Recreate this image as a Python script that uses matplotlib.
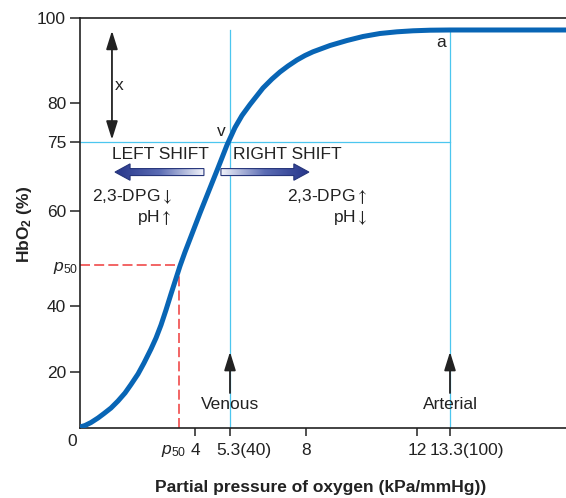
import numpy as np
import matplotlib
matplotlib.use('Agg')
import matplotlib.pyplot as plt
import matplotlib.transforms as mtransforms
from matplotlib.patches import FancyArrow
from matplotlib.colors import LinearSegmentedColormap

plt.rcParams['font.family'] = ['Liberation Sans', 'DejaVu Sans']
plt.rcParams['mathtext.fontset'] = 'custom'
plt.rcParams['mathtext.rm'] = 'Liberation Sans'
plt.rcParams['mathtext.it'] = 'Liberation Sans:italic'
plt.rcParams['mathtext.bf'] = 'Liberation Sans:bold'

# oxygen dissociation curve
kpa = [0.0, 0.177, 0.389, 0.636, 0.849, 1.096, 1.343, 1.591, 1.803, 2.051,
       2.263, 2.510, 2.687, 2.864, 3.040, 3.217, 3.376, 3.531, 3.688, 3.844,
       4.186, 4.557, 4.854, 5.189, 5.478, 5.726, 6.011, 6.472, 6.792, 7.076,
       7.361, 7.680, 7.964, 8.252, 8.865, 9.477, 10.054, 10.667, 11.279,
       11.856, 12.512, 13.3, 17.4]
hbo2 = [0.36, 0.89, 1.96, 3.57, 5.18, 7.14, 9.64, 12.5, 15.54, 19.29,
        22.73, 26.97, 30.30, 34.24, 38.79, 42.93, 46.34, 49.76, 52.41, 54.81,
        59.63, 65.0, 69.35, 74.35, 76.86, 78.40, 79.81, 83.55, 85.68, 87.34,
        88.76, 90.18, 91.24, 92.12, 93.61, 94.79, 95.74, 96.45, 96.85,
        97.09, 97.23, 97.28, 97.28]

p50_kpa = 3.5
p50_sat = 50
venous_kpa = 5.3
venous_sat = 75
arterial_kpa = 13.3
plateau_sat = 97.28

x_ticks = [3.5, 4, 5.3, 8, 12, 13.3]
x_ticklabels = [r'$p_{50}$', '4', '5.3(40)', '8', '12', '13.3(100)']
y_ticks = [20, 40, 50, 60, 75, 80, 100]
y_ticklabels = ['20', '40', r'$p_{50}$', '60', '75', '80', '100']

# the drawing is schematic: both axes are piecewise, not linear
x_knots = [-10, 0, 3.5, 4, 5.3, 8, 12, 13.3, 17.4, 30]
x_pos = [-283, 0, 99, 115, 150, 226, 337, 370, 486, 842]
y_knots = [-50, 0, 20, 40, 50, 60, 75, 80, 100, 150]
y_pos = [-140, 0, 56, 122, 163, 217, 286, 325, 409.5, 620]


def fwd(knots, pos):
    return lambda v: np.interp(v, knots, pos)


def inv(knots, pos):
    return lambda v: np.interp(v, pos, knots)


curve_col = '#0865b5'
cyan = '#4cc6ef'
red = '#f04a4a'
ink = '#222222'
fs = 12.5

fig = plt.figure(figsize=(5.66, 4.98), dpi=100)
ax = fig.add_axes([80 / 566, 70 / 498, 486 / 566, 409.5 / 498])
ax.set_xscale('function', functions=(fwd(x_knots, x_pos), inv(x_knots, x_pos)))
ax.set_yscale('function', functions=(fwd(y_knots, y_pos), inv(y_knots, y_pos)))

# guide lines
ax.plot([0, arterial_kpa], [venous_sat, venous_sat], color=cyan, lw=0.9, zorder=2)
ax.plot([venous_kpa, venous_kpa], [0, plateau_sat], color=cyan, lw=0.9, zorder=2)
ax.plot([arterial_kpa, arterial_kpa], [0, plateau_sat], color=cyan, lw=0.9, zorder=2)
ax.plot([0, p50_kpa], [p50_sat, p50_sat], color=red, lw=1.2, ls=(0, (6, 2.5)), zorder=2)
ax.plot([p50_kpa, p50_kpa], [0, p50_sat], color=red, lw=1.2, ls=(0, (6, 2.5)), zorder=2)

ax.plot(kpa, hbo2, color=curve_col, lw=3.6, solid_capstyle='butt',
        solid_joinstyle='round', zorder=5)

# arrows and labels
up = dict(arrowstyle='-|>,head_length=0.8,head_width=0.25', color=ink, lw=1.3,
          mutation_scale=14, shrinkA=0, shrinkB=0)
ax.annotate('', xy=(venous_kpa, 26.1), xytext=(venous_kpa, 12.5), arrowprops=up, zorder=6)
ax.annotate('', xy=(arterial_kpa, 26.1), xytext=(arterial_kpa, 12.5), arrowprops=up, zorder=6)
ax.text(venous_kpa, 8.3, 'Venous', ha='center', va='center', fontsize=fs, color=ink)
ax.text(arterial_kpa, 8.3, 'Arterial', ha='center', va='center', fontsize=fs, color=ink)

both = dict(arrowstyle='<|-|>,head_length=0.8,head_width=0.25', color=ink, lw=1.3,
            mutation_scale=14, shrinkA=0, shrinkB=0)
ax.annotate('', xy=(1.13, 97.1), xytext=(1.13, 75.3), arrowprops=both, zorder=6)
ax.text(1.24, 84.2, 'x', ha='left', va='center', fontsize=fs, color=ink)
ax.text(4.97, 76.3, 'v', ha='center', va='center', fontsize=fs, color=ink)
ax.text(12.95, 94.4, 'a', ha='center', va='center', fontsize=fs, color=ink)

cmap = LinearSegmentedColormap.from_list('shift', ['#26358a', '#5b6cb4', '#f2f4fa'])


def shift_arrow(x_tail, x_tip, y):
    arr = FancyArrow(x_tail, y, x_tip - x_tail, 0, width=0.017, head_width=0.04,
                     head_length=0.031, length_includes_head=True,
                     transform=ax.transAxes, facecolor='none',
                     edgecolor='#26357a', linewidth=0.8, zorder=4)
    ax.add_patch(arr)
    grad = np.linspace(0, 1, 256).reshape(1, -1)
    if x_tip > x_tail:
        grad = grad[:, ::-1]
    im = ax.imshow(grad, cmap=cmap, aspect='auto', interpolation='bilinear',
                   extent=(min(x_tail, x_tip), max(x_tail, x_tip), y - 0.025, y + 0.025),
                   transform=ax.transAxes, zorder=3)
    im.set_clip_path(arr)


shift_arrow(0.255, 0.072, 0.625)
shift_arrow(0.290, 0.471, 0.625)

txt = dict(transform=ax.transAxes, va='center', fontsize=fs, color=ink)
ax.text(0.165, 0.667, 'LEFT SHIFT', ha='center', **txt)
ax.text(0.426, 0.667, 'RIGHT SHIFT', ha='center', **txt)
ax.text(0.189, 0.564, r'2,3-DPG$\downarrow$', ha='right', math_fontfamily='stix', **txt)
ax.text(0.189, 0.515, r'pH$\uparrow$', ha='right', math_fontfamily='stix', **txt)
ax.text(0.591, 0.564, r'2,3-DPG$\uparrow$', ha='right', math_fontfamily='stix', **txt)
ax.text(0.591, 0.515, r'pH$\downarrow$', ha='right', math_fontfamily='stix', **txt)
ax.text(-0.016, -0.034, '0', ha='center', **txt)

# axes
ax.set_xlim(0, 17.4)
ax.set_ylim(0, 100)
ax.set_xticks(x_ticks)
ax.set_xticklabels(x_ticklabels)
ax.set_yticks(y_ticks)
ax.set_yticklabels(y_ticklabels)
ax.tick_params(axis='both', labelsize=fs, colors=ink, width=1.1)
ax.tick_params(axis='y', length=7, pad=3)
ax.tick_params(axis='x', length=6, pad=4.5)
ax.xaxis.get_major_ticks()[0].tick1line.set_visible(False)
ax.yaxis.get_major_ticks()[2].tick1line.set_visible(False)

# the number in front of the bracket sits on the tick; p50 labels hug the axis
for i, dx in {0: -5, 2: 14, 5: 17}.items():
    lab = ax.xaxis.get_major_ticks()[i].label1
    lab.set_transform(lab.get_transform()
                      + mtransforms.ScaledTranslation(dx / 100, 0, fig.dpi_scale_trans))
lab = ax.yaxis.get_major_ticks()[2].label1
lab.set_transform(lab.get_transform()
                  + mtransforms.ScaledTranslation(12 / 100, 0, fig.dpi_scale_trans))

ax.spines['right'].set_visible(False)
for s in ['left', 'top', 'bottom']:
    ax.spines[s].set_linewidth(1.2)
    ax.spines[s].set_color(ink)

ax.set_xlabel('Partial pressure of oxygen (kPa/mmHg))', fontsize=fs, fontweight='bold', color=ink)
ax.set_ylabel(r'HbO$_\mathbf{2}$ (%)', fontsize=fs, fontweight='bold', color=ink)
ax.xaxis.set_label_coords(0.496, -0.127)
ax.yaxis.set_label_coords(-0.095, 0.496)

fig.savefig('out.png', dpi=100)
